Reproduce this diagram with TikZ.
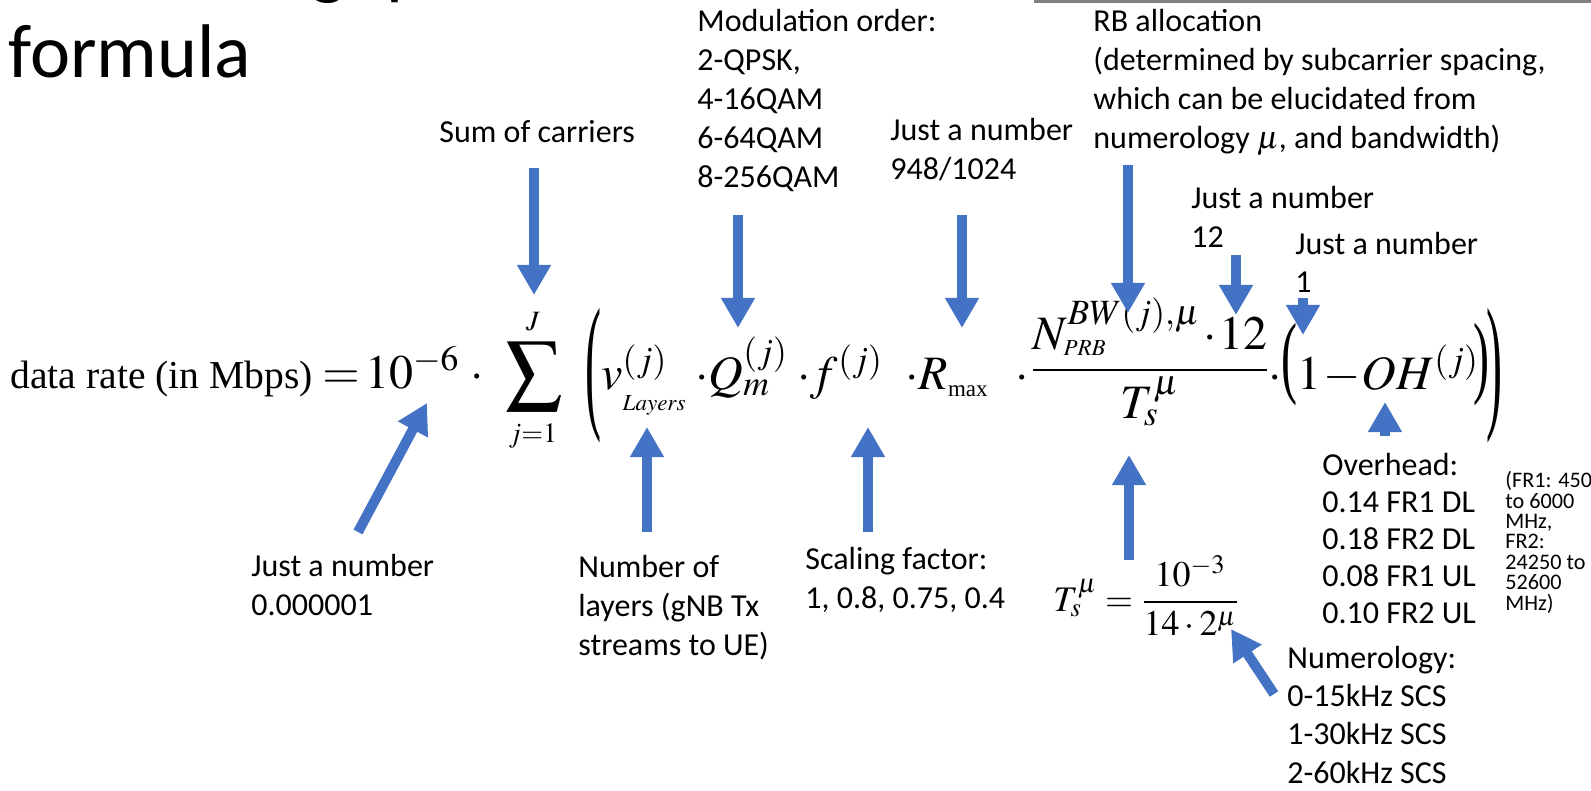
\documentclass[tikz,border=0pt]{standalone}
\usepackage{amsmath}
\usepackage{graphicx}
\usepackage{mathptmx}
\usepackage{fontspec}
\setmainfont{Liberation Serif}
\newfontfamily\calibri{Carlito}
\usetikzlibrary{arrows.meta}

\definecolor{arrowblue}{HTML}{4472C4}
\definecolor{rulegray}{HTML}{808080}

% a thin Times parenthesis, stretched vertically
\newcommand{\tallparen}[2]{\scalebox{1}[#1]{#2}}
\newcommand{\smallsub}[1]{\mbox{\fontsize{11.5}{12}\selectfont #1}}
\newcommand{\tightlines}{\lineskiplimit=-20pt\relax}

\tikzset{
  lbl/.style={font=\calibri\fontsize{16}{19.5}\selectfont, align=left, inner sep=0pt, anchor=base west},
  fnote/.style={font=\calibri\fontsize{11.1}{10.2}\selectfont\tightlines, align=left, inner sep=0pt, anchor=base west},
  ttl/.style={font=\calibri\fontsize{38}{42}\selectfont, inner sep=0pt, anchor=base west},
  fml/.style={font=\fontsize{24}{28}\selectfont, inner sep=0pt, anchor=base west},
  paren/.style={font=\fontsize{24}{28}\selectfont, inner sep=0pt, anchor=center},
  arr/.style={draw=arrowblue, line width=5pt, -{Triangle[width=16pt,length=15pt]}}
}

\begin{document}
\begin{tikzpicture}[x=0.5pt,y=-0.5pt]
\useasboundingbox (0,0) rectangle (1591,791);

% title (first line cut off by the top edge)
\node[ttl] (title1) at (8,-9) {The throughput};
\node[ttl] (title2) at (8,78) {formula};
\draw[rulegray, line width=1.3pt] (1034,1.3) -- (1591,1.3);

% the formula, piece by piece
\node[fml, font=\fontsize{19.8}{22}\selectfont] (rate) at (10,388) {data rate (in Mbps)};
\node[fml] (tenpow) at (322,388) {$=\!10^{-6}\;\cdot$};
\node[fml, font=\fontsize{28}{30}\selectfont, anchor=base] (sum) at (534,391) {$\displaystyle\sum$};
\node[fml, font=\fontsize{14}{16}\selectfont, anchor=base] (sumtop) at (533,330) {$J$};
\node[fml, font=\fontsize{14}{16}\selectfont, anchor=base] (sumbot) at (533,442) {$j{=}1$};
\node[paren] (lpar) at (593,376) {\tallparen{3.1}{(}};
\node[fml] (vlay) at (601,389) {$v^{(j)}_{\raisebox{-5pt}{\smallsub{$Layers$}}}$};
\node[fml] (qmod) at (695,389) {$\cdot Q_m^{(j)}$};
\node[fml] (fscale) at (797,389) {$\cdot f^{(j)}$};
\node[fml] (rmax) at (905,389) {$\cdot R_{\smallsub{max}}$};
\node[fml] (dotfr) at (1015,389) {$\cdot$};
\node[fml] (frac) at (1030,382) {$\dfrac{N_{\smallsub{$PRB$}}^{BW(j),\mu}\mkern1mu{\cdot}\mkern1mu 12}{T_s^{\mu}}$};
\node[fml] (ohead) at (1268,389) {$\cdot\raisebox{1.5pt}{\tallparen{1.9}{(}}1\mkern-2mu-\mkern-2mu OH^{(j)}\mkern-2mu\raisebox{1.5pt}{\tallparen{1.9}{)}}$};
\node[paren] (rpar) at (1494,376) {\tallparen{3.1}{)}};

% symbol duration
\node[fml, font=\fontsize{18}{21}\selectfont] (tsym) at (1053,611)
  {$T_s^{\mu}=\dfrac{10^{-3}}{14\cdot 2^{\mu}}$};

% labels
\node[lbl] (lsum) at (439,143) {Sum of carriers};
\node[lbl] (lmod) at (697,188) {Modulation order:\\2-QPSK,\\4-16QAM\\6-64QAM\\8-256QAM};
\node[lbl] (lrmax) at (890,180) {Just a number\\948/1024};
\node[lbl] (lrb) at (1093,149) {RB allocation\\(determined by subcarrier spacing,\\which can be elucidated from\\numerology $\mu$, and bandwidth)};
\node[lbl] (ltwelve) at (1191,248) {Just a number\\12};
\node[lbl] (lone) at (1295,293) {Just a number\\1};
\node[lbl] (lmicro) at (251,615) {Just a number\\0.000001};
\node[lbl] (llayers) at (578,655) {Number of\\layers (gNB Tx\\streams to UE)};
\node[lbl] (lscale) at (805,608) {Scaling factor:\\1, 0.8, 0.75, 0.4};
\node[lbl, font=\calibri\fontsize{16}{18.5}\selectfont] (lover) at (1322,623) {Overhead:\\0.14 FR1 DL\\0.18 FR2 DL\\0.08 FR1 UL\\0.10 FR2 UL};
\node[fnote] (lfr) at (1505,610) {(FR1: 450\\to 6000\\MHz,\\FR2:\\24250 to\\52600\\MHz)};
\node[lbl, font=\calibri\fontsize{16}{19.1}\selectfont] (lnum) at (1287,783) {Numerology:\\0-15kHz SCS\\1-30kHz SCS\\2-60kHz SCS};

% arrow ends
\coordinate (sumA) at (534,168);   \coordinate (sumB) at (534,295);
\coordinate (modA) at (738,215);   \coordinate (modB) at (738,328);
\coordinate (rA) at (962,215);     \coordinate (rB) at (962,328);
\coordinate (nA) at (1128,165);    \coordinate (nB) at (1128,313);
\coordinate (twA) at (1236,255);   \coordinate (twB) at (1236,315);
\coordinate (oneA) at (1303,298);  \coordinate (oneB) at (1303,335);
\coordinate (ohA) at (1385,436);   \coordinate (ohB) at (1385,402);
\coordinate (fA) at (868,532);     \coordinate (fB) at (868,427);
\coordinate (vA) at (647,532);     \coordinate (vB) at (647,427);
\coordinate (tenA) at (358,532);   \coordinate (tenB) at (427,403);
\coordinate (tA) at (1129,560);    \coordinate (tB) at (1129,455);
\coordinate (muA) at (1274,694);   \coordinate (muB) at (1231,629);

\foreach \a/\b in {sumA/sumB, modA/modB, rA/rB, nA/nB, twA/twB, oneA/oneB,
                   ohA/ohB, fA/fB, vA/vB, tenA/tenB, tA/tB, muA/muB}
  \draw[arr] (\a) -- (\b);

\end{tikzpicture}
\end{document}
